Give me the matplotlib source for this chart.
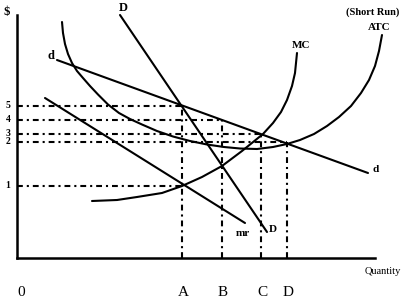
"""
Short-run kinked demand diagram (d, D, mr, MC, ATC) with price / quantity guides.
"""

import matplotlib
matplotlib.use("Agg")
import matplotlib.pyplot as plt

# Quantity and price levels (chart units, origin at the axes corner)
QTY_LABELS = ["A", "B", "C", "D"]
QTY = [165, 205, 244, 270]
PRICE_LABELS = ["5", "4", "3", "2", "1"]
PRICE = [152, 138, 124, 116, 72]

# Curves
D_X = [103, 250]
D_Y = [243, 26]
d_X = [40, 351]
d_Y = [198, 85]
MR_X = [28, 228]
MR_Y = [160, 35]
MC_X = [75, 100, 120, 145, 165, 185, 205, 225, 246, 256, 264, 270, 275, 278, 280]
MC_Y = [57, 58, 61, 65, 72, 81, 92, 107, 124, 135, 146, 158, 172, 185, 205]
ATC_X = [45, 46, 48, 51, 55, 60, 66, 73, 81, 91, 102, 113, 125, 140, 156, 173,
         190, 207, 223, 240, 256, 270, 283, 297, 310, 322, 334, 344, 352, 358, 362, 365]
ATC_Y = [236, 225, 214, 204, 195, 187, 180, 172, 163.5, 153.5, 145, 139, 133.5, 127,
         121.5, 117, 113.5, 111, 109.5, 109, 111, 114, 118, 124, 132, 141, 152, 165,
         178, 192, 207, 223]

# where each guide line stops: (price index, quantity index)
H_GUIDES = [(0, 0), (1, 1), (2, 2), (3, 3), (4, 0)]
V_GUIDES = [(0, 0), (1, 1), (2, 2), (3, 3)]

plt.rcParams["font.family"] = ["Liberation Serif", "DejaVu Serif"]

fig = plt.figure(figsize=(4.04, 3.0), dpi=100)
ax = fig.add_axes([0, 0, 1, 1])
ax.set_xlim(-17, 387)
ax.set_ylim(-42, 258)
ax.axis("off")

lw = 1.5
dash = (0, (2.8, 1.9, 1, 1.9))

# axes
ax.plot([0, 0], [0, 243], color="black", lw=1.8)
ax.plot([0, 358], [0, 0], color="black", lw=1.8)

# guides
for pi, qi in H_GUIDES:
    ax.plot([0, QTY[qi]], [PRICE[pi], PRICE[pi]], color="black", lw=lw, linestyle=dash)
for pi, qi in V_GUIDES:
    ax.plot([QTY[qi], QTY[qi]], [0, PRICE[pi]], color="black", lw=lw, linestyle=dash)

# curves
for xs, ys in [(D_X, D_Y), (d_X, d_Y), (MR_X, MR_Y), (MC_X, MC_Y), (ATC_X, ATC_Y)]:
    ax.plot(xs, ys, color="black", lw=lw, solid_capstyle="round", solid_joinstyle="round")

# labels
bold = dict(fontweight="bold", ha="center", va="center")
ax.text(-10, 246, "$", fontsize=9, **bold)
ax.text(106, 250, "D", fontsize=9, **bold)
ax.text(34, 202, "d", fontsize=9, **bold)
ax.text(359, 88, "d", fontsize=8, **bold)
ax.text(226, 25, "mr", fontsize=8, **bold)
ax.text(256, 29, "D", fontsize=8, **bold)
ax.text(284, 213, "MC", fontsize=8, **bold)
ax.text(356, 246, "(Short Run)", fontsize=7.5, **bold)
ax.text(362, 231, "ATC", fontsize=8, **bold)
ax.text(366, -14, "Quantity", fontsize=7.5, ha="center", va="center")

for lab, p in zip(PRICE_LABELS, PRICE):
    ax.text(-9, p, lab, fontsize=7, **bold)

ax.text(4, -34, "0", fontsize=11, ha="center", va="center")
for lab, q in zip(QTY_LABELS, QTY):
    ax.text(q + 1, -34, lab, fontsize=11, ha="center", va="center")

fig.savefig("out.png", dpi=100)
